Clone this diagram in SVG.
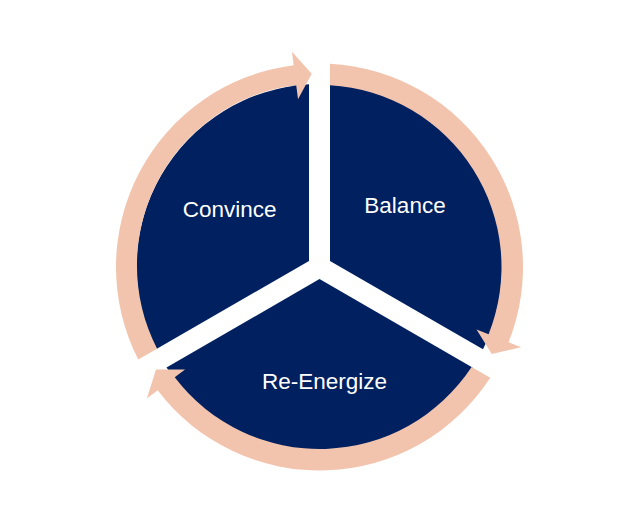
<svg xmlns="http://www.w3.org/2000/svg" width="642" height="523" viewBox="0 0 642 523">
  <style>
    .sector { fill: #002060; }
    .label { fill: #ffffff; font-family: "Liberation Sans", Arial, sans-serif; font-size: 22.5px; text-anchor: middle; }
    .arrow { fill: #F2C4AD; }
  </style>
  <rect width="642" height="523" fill="#ffffff"/>
  <g id="node-convince">
    <path class="sector" d="M 309 260.94 L 156.03 349.26 A 183 183 0 0 1 309 84.3 Z"/>
    <text class="label" x="229.7" y="216.7">Convince</text>
  </g>
  <g id="node-balance">
    <path class="sector" d="M 330 260.94 L 330 84.3 A 183 183 0 0 1 482.97 349.26 Z"/>
    <text class="label" x="405" y="213.3">Balance</text>
  </g>
  <g id="node-reenergize">
    <path class="sector" d="M 319.5 279.12 L 472.47 367.44 A 183 183 0 0 1 166.53 367.44 Z"/>
    <text class="label" x="324.5" y="389.3">Re-Energize</text>
  </g>
  <g id="connectors">
    <path class="arrow" d="M 138.25 359.5 A 203.5 203.5 0 0 1 293.64 65.15 L 291.93 51.76 L 311.73 73.66 L 298.03 99.37 L 296.18 84.99 A 182 182 0 0 0 157.1 348.8 Z"/>
    <path class="arrow" d="M 330 63.77 A 203.5 203.5 0 0 1 508.58 342.24 L 521.12 347.24 L 491.77 354.02 L 476.52 329.49 L 488.6 334.29 A 182 182 0 0 0 330 85.3 Z"/>
    <path class="arrow" d="M 490.25 377.69 A 203.5 203.5 0 0 1 157.62 390.32 L 146.88 398.5 L 155.97 369.51 L 185.07 369.41 L 174.72 377.29 A 182 182 0 0 0 471.6 366.94 Z"/>
  </g>
</svg>
